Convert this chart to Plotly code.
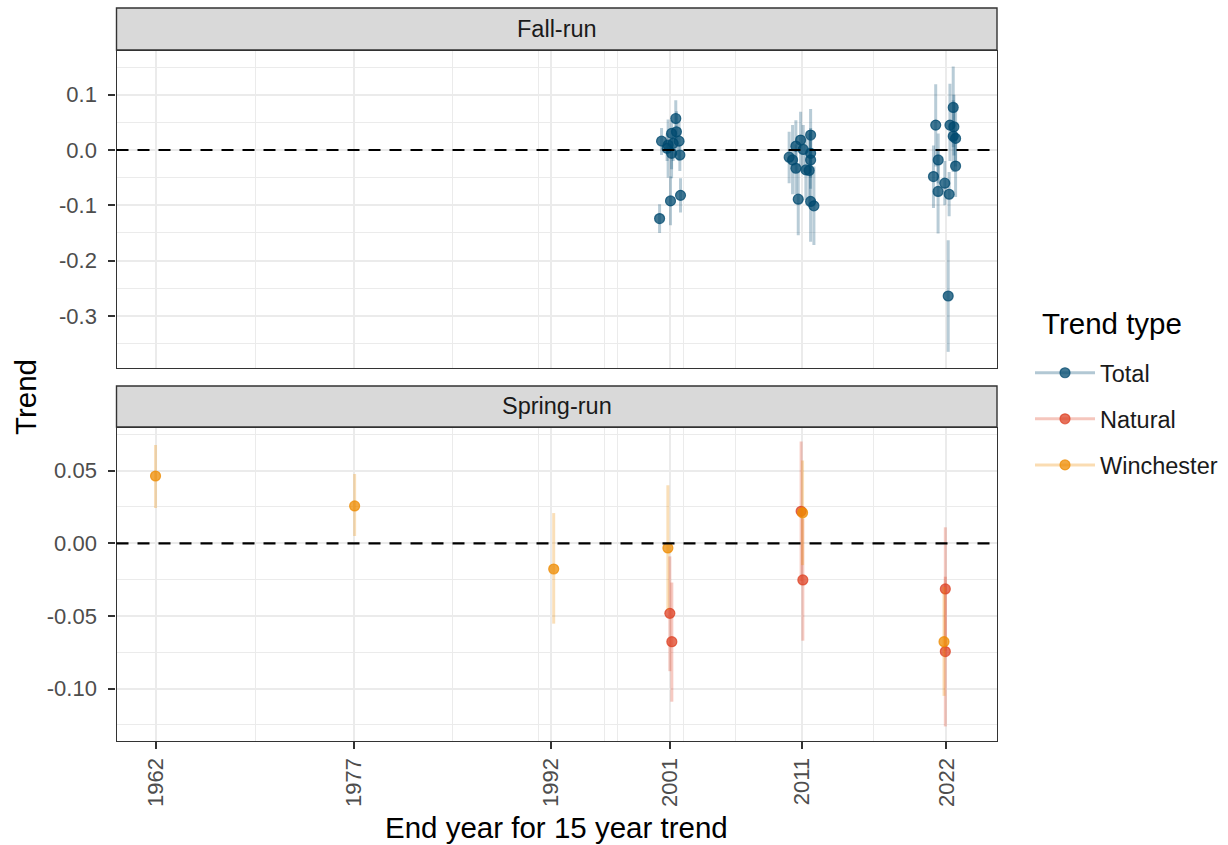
import plotly.graph_objects as go

W, H = 1228, 845

# ---------------- data ----------------
# Fall-run, "Total" trends (end year jittered as drawn)
fall_year = [2001.45, 2001.50, 2001.13, 2000.37, 2001.70, 2000.87, 2001.25, 2000.79, 2001.13, 2001.76, 2001.05, 2001.81, 2000.22,
             2011.69, 2010.93, 2010.57, 2011.13, 2011.69, 2010.06, 2010.32, 2011.69, 2010.57, 2011.33, 2011.58, 2010.75, 2011.69, 2011.94,
             2022.52, 2021.19, 2022.27, 2022.57, 2022.52, 2022.70, 2021.38, 2022.70, 2021.02, 2021.88, 2021.37, 2022.21, 2022.14]
fall_trend = [0.057, 0.033, 0.030, 0.016, 0.016, 0.009, 0.012, 0.003, -0.006, -0.009, -0.092, -0.082, -0.124,
              0.027, 0.018, 0.007, 0.001, -0.006, -0.013, -0.018, -0.018, -0.033, -0.036, -0.037, -0.089, -0.093, -0.101,
              0.077, 0.045, 0.045, 0.042, 0.025, 0.021, -0.018, -0.029, -0.048, -0.060, -0.075, -0.080, -0.264]
fall_lo = [0.018, -0.010, -0.051, -0.009, -0.020, -0.050, -0.020, -0.020, -0.035, -0.038, -0.136, -0.113, -0.150,
           -0.020, -0.030, -0.040, -0.040, -0.050, -0.060, -0.080, -0.070, -0.080, -0.090, -0.100, -0.154, -0.166, -0.172,
           0.005, -0.030, -0.020, -0.010, -0.040, -0.030, -0.060, -0.085, -0.105, -0.100, -0.151, -0.120, -0.365]
fall_hi = [0.090, 0.070, 0.054, 0.040, 0.050, 0.055, 0.040, 0.030, 0.020, 0.010, -0.048, -0.051, -0.098,
           0.074, 0.069, 0.054, 0.045, 0.040, 0.033, 0.045, 0.035, 0.010, 0.020, 0.030, -0.024, -0.020, -0.030,
           0.151, 0.119, 0.120, 0.100, 0.090, 0.085, 0.030, 0.030, 0.008, -0.020, 0.000, -0.040, -0.163]

# Spring-run, "Natural" trends
nat_year = [2001.00, 2001.15, 2010.97, 2011.10, 2021.92, 2021.92]
nat_trend = [-0.0482, -0.0677, 0.0220, -0.0252, -0.0314, -0.0745]
nat_lo = [-0.088, -0.109, -0.026, -0.067, -0.074, -0.126]
nat_hi = [-0.009, -0.027, 0.070, 0.017, 0.011, -0.023]

# Spring-run, "Winchester" trends
win_year = [1961.94, 1977.06, 1992.18, 2000.85, 2011.08, 2021.82]
win_trend = [0.0463, 0.0257, -0.0177, -0.0032, 0.0210, -0.0677]
win_lo = [0.0243, 0.0050, -0.0553, -0.046, -0.015, -0.105]
win_hi = [0.0676, 0.0477, 0.0208, 0.040, 0.057, -0.030]

series_names = ["Total", "Natural", "Winchester"]
series_colors = ["#00496F", "#DD4124", "#ED8B00"]

x_tick_vals = [1962, 1977, 1992, 2001, 2011, 2022]
x_tick_text = ["1962", "1977", "1992", "2001", "2011", "2022"]
x_minor_vals = [1969.5, 1984.5, 1991, 1996, 1997, 2002, 2006, 2016.5]

fall_y_ticks = [0.1, 0.0, -0.1, -0.2, -0.3]
fall_y_text = ["0.1", "0.0", "-0.1", "-0.2", "-0.3"]
fall_y_minor = [0.15, 0.05, -0.05, -0.15, -0.25, -0.35]

spring_y_ticks = [0.05, 0.0, -0.05, -0.10]
spring_y_text = ["0.05", "0.00", "-0.05", "-0.10"]
spring_y_minor = [0.075, 0.025, -0.025, -0.075, -0.125]

panel_titles = ["Fall-run", "Spring-run"]

# ---------------- helpers ----------------
def rgba(hex_color, a):
    h = hex_color.lstrip("#")
    r, g, b = int(h[0:2], 16), int(h[2:4], 16), int(h[4:6], 16)
    return f"rgba({r},{g},{b},{a})"

def px_x(p):
    return p / W

def px_y(p):
    return 1 - p / H

FONT = "Liberation Sans, Arial, Helvetica, sans-serif"
PT_ALPHA = 0.75
BAR_ALPHA = 0.28
TITLE_SIZE = 29.5

fig = go.Figure()

def add_series(xs, ys, lo, hi, color, xa, ya, name):
    fig.add_trace(go.Scatter(
        x=xs, y=ys, mode="markers", xaxis=xa, yaxis=ya, showlegend=False, name=name,
        marker=dict(size=10, color=rgba(color, PT_ALPHA), line=dict(color=rgba(color, PT_ALPHA), width=1.2)),
        error_y=dict(type="data", symmetric=False,
                     array=[h - y for h, y in zip(hi, ys)],
                     arrayminus=[y - l for l, y in zip(lo, ys)],
                     color=rgba(color, BAR_ALPHA), thickness=3, width=0),
        hoverinfo="x+y",
    ))

add_series(fall_year, fall_trend, fall_lo, fall_hi, series_colors[0], "x", "y", series_names[0])
add_series(nat_year, nat_trend, nat_lo, nat_hi, series_colors[1], "x2", "y2", series_names[1])
add_series(win_year, win_trend, win_lo, win_hi, series_colors[2], "x2", "y2", series_names[2])

# legend-only traces (pointrange style key)
for i, (nm, col) in enumerate(zip(series_names, series_colors)):
    fig.add_trace(go.Scatter(
        x=[None], y=[None], mode="lines+markers", name=nm, legendgroup=nm, showlegend=True,
        xaxis="x", yaxis="y",
        line=dict(color=rgba(col, 0.3), width=3),
        marker=dict(size=10, color=rgba(col, PT_ALPHA), line=dict(color=rgba(col, PT_ALPHA), width=1.2)),
    ))

x_left, x_right = 116.5, 997
top_panel = (51, 368)
bot_panel = (428, 741)
top_strip = (8, 50)
bot_strip = (386, 427)

x_range = [1958.976, 2025.845]
grid_major = "#EBEBEB"
axis_common = dict(showline=True, linecolor="#333333", linewidth=1.4, mirror=True,
                   showgrid=True, gridcolor=grid_major, gridwidth=1.6, zeroline=False)

fig.update_layout(
    width=W, height=H,
    margin=dict(l=0, r=0, t=0, b=0),
    paper_bgcolor="white", plot_bgcolor="white",
    font=dict(family=FONT, color="#4D4D4D", size=22),
    xaxis=dict(domain=[px_x(x_left), px_x(x_right)], anchor="y", range=x_range,
               tickvals=x_tick_vals, ticktext=x_tick_text, showticklabels=False, ticks="",
               minor=dict(tickmode="array", tickvals=x_minor_vals, showgrid=True, gridcolor=grid_major, gridwidth=0.8),
               **axis_common),
    yaxis=dict(domain=[px_y(top_panel[1]), px_y(top_panel[0])], anchor="x",
               range=[-(top_panel[1] - 150) / 553.0, (150 - top_panel[0]) / 553.0],
               tickmode="array", tickvals=fall_y_ticks, ticktext=fall_y_text,
               ticks="outside", ticklen=7, tickwidth=1.6, tickcolor="#333333", ticklabelstandoff=7,
               tickfont=dict(size=22, color="#4D4D4D", family=FONT),
               minor=dict(tickmode="array", tickvals=fall_y_minor, showgrid=True, gridcolor=grid_major, gridwidth=0.8),
               **axis_common),
    xaxis2=dict(domain=[px_x(x_left), px_x(x_right)], anchor="y2", range=x_range,
                tickmode="array", tickvals=x_tick_vals, ticktext=x_tick_text, tickangle=-90,
                ticks="outside", ticklen=7, tickwidth=1.6, tickcolor="#333333", ticklabelstandoff=0,
                tickfont=dict(size=22, color="#4D4D4D", family=FONT),
                minor=dict(tickmode="array", tickvals=x_minor_vals, showgrid=True, gridcolor=grid_major, gridwidth=0.8),
                **axis_common),
    yaxis2=dict(domain=[px_y(bot_panel[1]), px_y(bot_panel[0])], anchor="x2",
                range=[-(bot_panel[1] - 543.3) / 1453.3, (543.3 - bot_panel[0]) / 1453.3],
                tickmode="array", tickvals=spring_y_ticks, ticktext=spring_y_text,
                ticks="outside", ticklen=7, tickwidth=1.6, tickcolor="#333333", ticklabelstandoff=7,
                tickfont=dict(size=22, color="#4D4D4D", family=FONT),
                minor=dict(tickmode="array", tickvals=spring_y_minor, showgrid=True, gridcolor=grid_major, gridwidth=0.8),
                **axis_common),
    legend=dict(
        font=dict(size=23.5, color="#1A1A1A", family=FONT),
        x=px_x(1030), y=px_y(351), xanchor="left", yanchor="top",
        bgcolor="rgba(0,0,0,0)", tracegroupgap=12.5, itemwidth=60,
    ),
)

shapes = []
# strips
for (s0, s1) in (top_strip, bot_strip):
    shapes.append(dict(type="rect", xref="paper", yref="paper",
                       x0=px_x(x_left), x1=px_x(x_right), y0=px_y(s1), y1=px_y(s0),
                       fillcolor="#D9D9D9", line=dict(color="#333333", width=1.4), layer="above"))
# dashed zero reference lines
for ya in ("y", "y2"):
    shapes.append(dict(type="line", xref=("x domain" if ya == "y" else "x2 domain"), yref=ya,
                       x0=0, x1=1, y0=0, y1=0, line=dict(color="black", width=2.2, dash="12px,9px"),
                       layer="above"))
fig.update_layout(shapes=shapes)

annotations = []
for title, (s0, s1) in zip(panel_titles, (top_strip, bot_strip)):
    annotations.append(dict(text=title, xref="paper", yref="paper",
                            x=px_x((x_left + x_right) / 2), y=px_y((s0 + s1) / 2),
                            showarrow=False, xanchor="center", yanchor="middle",
                            font=dict(size=23.5, color="#1A1A1A", family=FONT)))
annotations.append(dict(text="Trend", xref="paper", yref="paper", x=px_x(25), y=px_y(397),
                        textangle=-90, showarrow=False, xanchor="center", yanchor="middle",
                        font=dict(size=TITLE_SIZE, color="#000000", family=FONT)))
annotations.append(dict(text="End year for 15 year trend", xref="paper", yref="paper",
                        x=px_x((x_left + x_right) / 2), y=px_y(827),
                        showarrow=False, xanchor="center", yanchor="middle",
                        font=dict(size=TITLE_SIZE, color="#000000", family=FONT)))
annotations.append(dict(text="Trend type", xref="paper", yref="paper",
                        x=px_x(1040), y=px_y(323),
                        showarrow=False, xanchor="left", yanchor="middle",
                        font=dict(size=TITLE_SIZE, color="#000000", family=FONT)))
fig.update_layout(annotations=annotations)

fig.write_html("out.html")
